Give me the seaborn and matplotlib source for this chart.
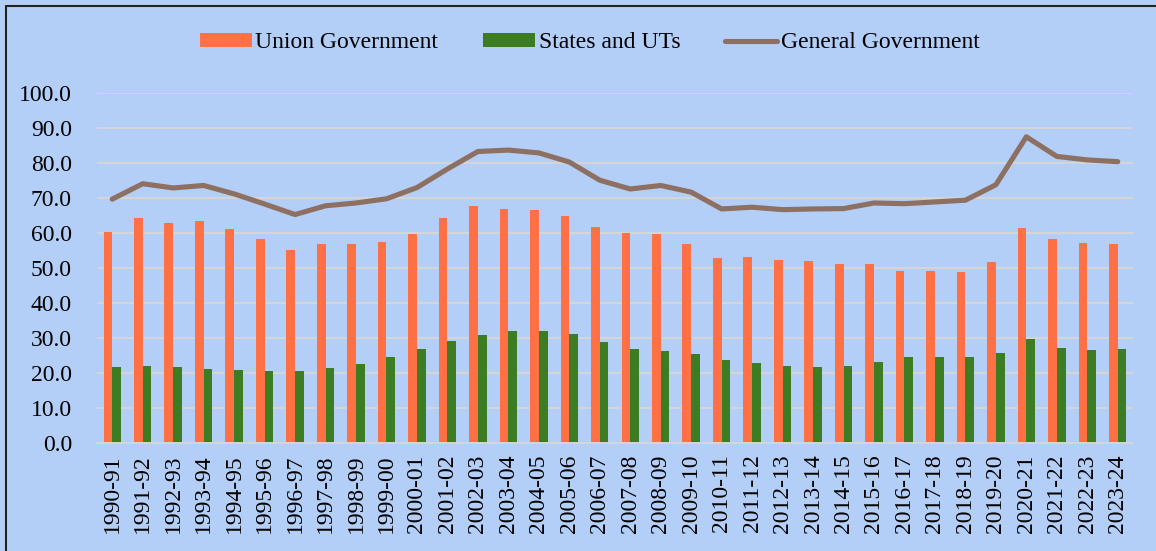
import numpy as np
import pandas as pd
import matplotlib
matplotlib.use("Agg")
import matplotlib.pyplot as plt
import seaborn as sns
from matplotlib.lines import Line2D
from matplotlib.patches import Patch

# ─── Data ────────────────────────────────────────────────────────────────────
years = ["1990-91", "1991-92", "1992-93", "1993-94", "1994-95", "1995-96",
         "1996-97", "1997-98", "1998-99", "1999-00", "2000-01", "2001-02",
         "2002-03", "2003-04", "2004-05", "2005-06", "2006-07", "2007-08",
         "2008-09", "2009-10", "2010-11", "2011-12", "2012-13", "2013-14",
         "2014-15", "2015-16", "2016-17", "2017-18", "2018-19", "2019-20",
         "2020-21", "2021-22", "2022-23", "2023-24"]

union = [60.3, 64.3, 62.9, 63.4, 61.1, 58.2, 55.1, 57.0, 57.0, 57.5, 59.7, 64.4,
         67.7, 67.0, 66.5, 64.8, 61.7, 59.9, 59.8, 57.0, 53.0, 53.2, 52.3, 52.0,
         51.2, 51.3, 49.2, 49.1, 49.0, 51.8, 61.6, 58.2, 57.3, 56.9]

states = [21.9, 22.0, 21.7, 21.2, 21.0, 20.6, 20.6, 21.4, 22.6, 24.6, 26.9, 29.2,
          31.0, 32.2, 32.0, 31.3, 29.0, 26.8, 26.3, 25.5, 23.7, 22.8, 22.2, 21.7,
          22.0, 23.1, 24.5, 24.6, 24.7, 25.8, 29.8, 27.3, 26.6, 26.8]

general = [69.7, 74.1, 72.9, 73.6, 71.2, 68.3, 65.3, 67.8, 68.6, 69.8, 73.0, 78.3,
           83.3, 83.7, 82.9, 80.3, 75.1, 72.6, 73.6, 71.7, 66.9, 67.4, 66.7, 66.9,
           67.0, 68.6, 68.4, 68.9, 69.4, 73.8, 87.5, 81.9, 80.9, 80.4]

series_names = ["Union Government", "States and UTs", "General Government"]

# ─── Style ───────────────────────────────────────────────────────────────────
BG = "#B4CFF7"
ORANGE = "#FF7145"
GREEN = "#3C7C22"
BROWN = "#8D7062"
GRID = "#D6D6D6"
FS = 17

sns.set_theme(style="white")
plt.rcParams["font.family"] = ["Liberation Serif", "DejaVu Serif"]
plt.rcParams["text.color"] = "black"
plt.rcParams["xtick.color"] = "black"
plt.rcParams["ytick.color"] = "black"

bars = pd.DataFrame({
    "Year": years * 2,
    "Value": union + states,
    "Series": [series_names[0]] * len(years) + [series_names[1]] * len(years),
})

fig = plt.figure(figsize=(11.56, 5.51), dpi=100, facecolor=BG)
ax = fig.add_axes([97 / 1156, (551 - 443.3) / 551, (1133 - 97) / 1156, 350.3 / 551])
ax.set_facecolor(BG)

sns.barplot(data=bars, x="Year", y="Value", hue="Series", order=years,
            hue_order=series_names[:2], palette=[ORANGE, GREEN],
            width=0.57, ax=ax, legend=False, saturation=1,
            linewidth=0, edgecolor="none")

sns.lineplot(x=np.arange(len(years)), y=general, color=BROWN, lw=3.7,
             solid_capstyle="round", ax=ax)

ax.set_ylim(0, 100)
ax.set_xlim(-0.5, len(years) - 0.5)
ax.set_yticks(np.arange(0, 101, 10))
ax.set_yticklabels([f"{v:.1f}" for v in np.arange(0, 101, 10)], fontsize=FS)
ax.set_xticks(np.arange(len(years)))
ax.set_xticklabels(years, rotation=90, fontsize=FS)
ax.tick_params(axis="y", length=0, pad=18)
ax.tick_params(axis="x", length=0, pad=8)
ax.set_xlabel("")
ax.set_ylabel("")

ax.yaxis.grid(True, color=GRID, lw=1.4)
ax.set_axisbelow(True)
for side in ["top", "right", "left"]:
    ax.spines[side].set_visible(False)
ax.spines["bottom"].set_color(GRID)
ax.spines["bottom"].set_linewidth(1.4)

handles = [Patch(facecolor=ORANGE, edgecolor="none"),
           Patch(facecolor=GREEN, edgecolor="none"),
           Line2D([0], [0], color=BROWN, lw=3.7, solid_capstyle="round")]
fig.legend(handles, series_names, loc="center", bbox_to_anchor=(0.51, 1 - 43 / 551),
           ncol=3, frameon=False, fontsize=FS, handlelength=2.2,
           handleheight=0.55, handletextpad=0.15, columnspacing=1.9)

# frame lines (top and left of the outer border)
fig.add_artist(Line2D([6 / 1156, 1], [1 - 6 / 551, 1 - 6 / 551],
                      transform=fig.transFigure, color="#222222", lw=1.5))
fig.add_artist(Line2D([6 / 1156, 6 / 1156], [0, 1 - 6 / 551],
                      transform=fig.transFigure, color="#222222", lw=1.5))

fig.savefig("out.png", dpi=100, facecolor=BG)
